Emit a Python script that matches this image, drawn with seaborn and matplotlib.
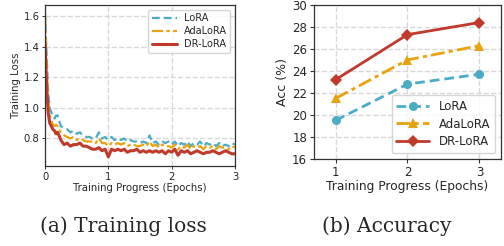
import numpy as np
import pandas as pd
import matplotlib
matplotlib.use("Agg")
import matplotlib.pyplot as plt
import seaborn as sns

# ===============================
# Data
# ===============================
# training loss curves (epoch grid: finer at the start)
epochs = list(np.round(np.arange(0, 0.2, 0.025), 3)) + list(np.round(np.arange(0.2, 3.001, 0.05), 3))

loss_lora = [1.62, 1.35, 1.10, 1.00, 0.97, 0.94, 0.93, 0.95,
             0.95, 0.88, 0.87, 0.86, 0.84, 0.85, 0.83, 0.84, 0.82, 0.81,
             0.81, 0.80, 0.80, 0.84, 0.80, 0.81, 0.79, 0.81, 0.79, 0.80,
             0.79, 0.80, 0.78, 0.79, 0.78, 0.78, 0.77, 0.78, 0.77, 0.82,
             0.77, 0.78, 0.76, 0.78, 0.77, 0.78, 0.76, 0.78, 0.75, 0.77,
             0.76, 0.78, 0.75, 0.77, 0.76, 0.78, 0.75, 0.77, 0.76, 0.77,
             0.75, 0.77, 0.75, 0.76, 0.75, 0.77, 0.76]
loss_ada = [1.60, 1.30, 1.04, 0.95, 0.92, 0.89, 0.88, 0.89,
            0.88, 0.84, 0.82, 0.81, 0.80, 0.81, 0.79, 0.80, 0.79, 0.78,
            0.78, 0.78, 0.77, 0.80, 0.77, 0.77, 0.75, 0.77, 0.76, 0.77,
            0.76, 0.77, 0.75, 0.76, 0.76, 0.75, 0.75, 0.76, 0.75, 0.78,
            0.75, 0.76, 0.74, 0.76, 0.75, 0.75, 0.74, 0.76, 0.73, 0.75,
            0.74, 0.76, 0.73, 0.75, 0.74, 0.75, 0.73, 0.75, 0.74, 0.75,
            0.73, 0.75, 0.74, 0.74, 0.73, 0.75, 0.74]
loss_dr = [1.42, 1.15, 0.97, 0.90, 0.88, 0.86, 0.85, 0.83,
           0.84, 0.79, 0.76, 0.77, 0.75, 0.76, 0.76, 0.77, 0.75, 0.75,
           0.74, 0.73, 0.73, 0.74, 0.72, 0.73, 0.68, 0.73, 0.72, 0.73,
           0.72, 0.73, 0.71, 0.72, 0.72, 0.73, 0.71, 0.72, 0.71, 0.72,
           0.71, 0.72, 0.71, 0.72, 0.70, 0.72, 0.71, 0.73, 0.69, 0.72,
           0.71, 0.72, 0.70, 0.71, 0.72, 0.71, 0.70, 0.71, 0.71, 0.72,
           0.71, 0.70, 0.71, 0.72, 0.71, 0.70, 0.70]

# accuracy per epoch
acc_epochs = [1, 2, 3]
acc_lora = [19.5, 22.8, 23.7]
acc_ada = [21.5, 25.0, 26.3]
acc_dr = [23.2, 27.3, 28.4]

methods = ["LoRA", "AdaLoRA", "DR-LoRA"]
colors = {"LoRA": "#4bacc6", "AdaLoRA": "#e8a30e", "DR-LoRA": "#c0392b"}
dashes = {"LoRA": (3.5, 1.8), "AdaLoRA": (5, 1.5, 1.5, 1.5), "DR-LoRA": ""}
markers = {"LoRA": "o", "AdaLoRA": "^", "DR-LoRA": "D"}

loss_df = pd.DataFrame({
    "epoch": epochs * 3,
    "loss": loss_lora + loss_ada + loss_dr,
    "method": sum([[m] * len(epochs) for m in methods], []),
})
acc_df = pd.DataFrame({
    "epoch": acc_epochs * 3,
    "acc": acc_lora + acc_ada + acc_dr,
    "method": sum([[m] * 3 for m in methods], []),
})

# ===============================
# Style
# ===============================
sns.set_theme(style="whitegrid")
plt.rcParams["font.family"] = ["DejaVu Sans"]
plt.rcParams["grid.linestyle"] = "--"
plt.rcParams["grid.color"] = "#d8d8d8"
plt.rcParams["axes.edgecolor"] = "#333333"

fig = plt.figure(figsize=(5.04, 2.46), dpi=100)
ax1 = fig.add_axes([0.0893, 0.325, 0.377, 0.654])
ax2 = fig.add_axes([0.623, 0.354, 0.371, 0.626])

# ===============================
# (a) Training loss
# ===============================
widths = {"LoRA": 1.6, "AdaLoRA": 1.6, "DR-LoRA": 2.2}
for m in methods:
    sub = loss_df[loss_df["method"] == m]
    sns.lineplot(data=sub, x="epoch", y="loss", ax=ax1, color=colors[m],
                 lw=widths[m], label=m)
    if dashes[m]:
        ax1.lines[-1].set_dashes(dashes[m])

ax1.set_xlim(0, 3)
ax1.set_ylim(0.62, 1.67)
ax1.set_xticks([0, 1, 2, 3])
ax1.set_yticks([0.8, 1.0, 1.2, 1.4, 1.6])
ax1.set_xlabel("Training Progress (Epochs)", fontsize=7.3, labelpad=1)
ax1.set_ylabel("Training Loss", fontsize=7.3, labelpad=2)
ax1.tick_params(labelsize=7.2, length=2.5, width=0.7, pad=1.5,
                bottom=True, left=True, color="#333333")
ax1.legend(loc="upper right", fontsize=7, handlelength=2.6, borderpad=0.35,
           labelspacing=0.3, handletextpad=0.7, frameon=True)

# ===============================
# (b) Accuracy
# ===============================
for m in methods:
    sub = acc_df[acc_df["method"] == m]
    sns.lineplot(data=sub, x="epoch", y="acc", ax=ax2, color=colors[m],
                 lw=2.0, marker=markers[m], markersize=6.5 if m != "DR-LoRA" else 6,
                 markeredgewidth=0, label=m)
    if dashes[m]:
        ax2.lines[-1].set_dashes(dashes[m])

ax2.set_xlim(0.7, 3.3)
ax2.set_ylim(16, 30)
ax2.set_xticks([1, 2, 3])
ax2.set_yticks(range(16, 31, 2))
ax2.set_xlabel("Training Progress (Epochs)", fontsize=8.8, labelpad=1)
ax2.set_ylabel("Acc (%)", fontsize=9, labelpad=2)
ax2.tick_params(labelsize=8.5, length=3, width=0.8, pad=2,
                bottom=True, left=True, color="#333333")
ax2.legend(loc="lower right", fontsize=8.5, handlelength=2.8, borderpad=0.4,
           labelspacing=0.4, frameon=True)

for ax in (ax1, ax2):
    for s in ax.spines.values():
        s.set_linewidth(0.9)

# captions
fig.text(0.245, 0.081, "(a) Training loss", ha="center", va="center",
         fontsize=14.5, family="DejaVu Serif")
fig.text(0.768, 0.081, "(b) Accuracy", ha="center", va="center",
         fontsize=14.5, family="DejaVu Serif")

plt.savefig("out.png", dpi=100)
